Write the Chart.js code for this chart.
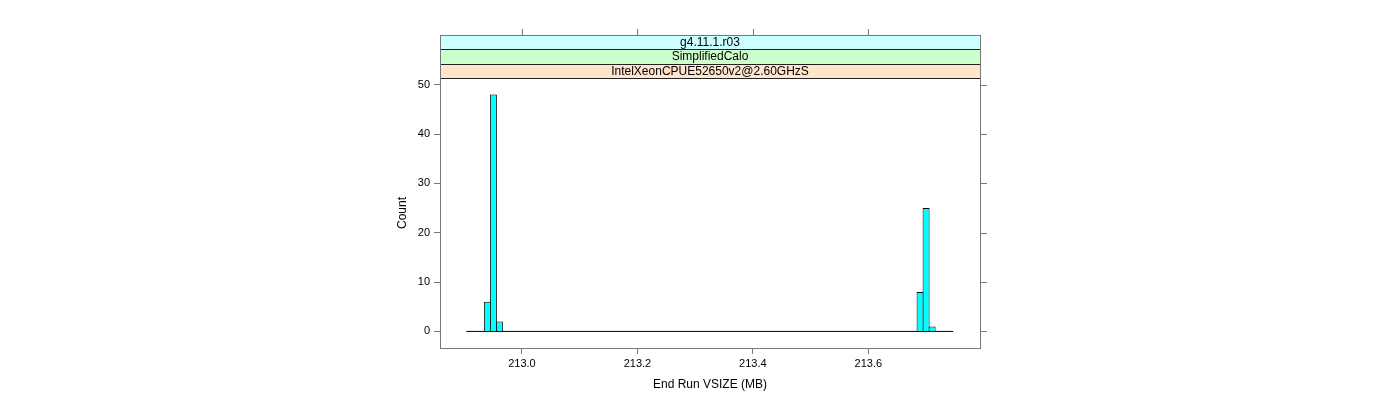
<!DOCTYPE html>
<html>
<head>
<meta charset="utf-8">
<script src="https://cdn.jsdelivr.net/npm/chart.js@4/dist/chart.umd.min.js"></script>
<style>
  html, body { margin: 0; padding: 0; background: #ffffff; }
  #wrap { width: 1400px; height: 400px; position: relative; }
</style>
</head>
<body>
<div id="wrap"><canvas id="c" width="1400" height="400"></canvas></div>
<script>
// ---- data ----
const stripLabels = ["g4.11.1.r03", "SimplifiedCalo", "IntelXeonCPUE52650v2@2.60GHzS"];
const binStart = 212.9036;      // MB, first histogram break
const binWidth = 0.010412;      // MB, histogram bin width
const counts = [
  0, 0, 0, 6, 48, 2, 0, 0, 0, 0,
  0, 0, 0, 0, 0, 0, 0, 0, 0, 0,
  0, 0, 0, 0, 0, 0, 0, 0, 0, 0,
  0, 0, 0, 0, 0, 0, 0, 0, 0, 0,
  0, 0, 0, 0, 0, 0, 0, 0, 0, 0,
  0, 0, 0, 0, 0, 0, 0, 0, 0, 0,
  0, 0, 0, 0, 0, 0, 0, 0, 0, 0,
  0, 0, 0, 0, 0, 8, 25, 1, 0, 0,
  0
];
const xTicks = [213.0, 213.2, 213.4, 213.6];
const yTicks = [0, 10, 20, 30, 40, 50];
const xRange = [212.858, 213.7935];
const yRange = [-3.36, 51.36];
const xTitle = "End Run VSIZE (MB)";
const yTitle = "Count";

// ---- chart ----
const FONT = "'Liberation Sans', Arial, Helvetica, sans-serif";
const stripColors = ["#CCFFFF", "#CCFFCC", "#FFE5CC"];
const AXIS_COL = "#777777";

const barData = counts.map((c, i) => ({ x: binStart + (i + 0.5) * binWidth, y: c }));
const baseData = [{ x: binStart, y: 0 }, { x: binStart + counts.length * binWidth, y: 0 }];

const framePlugin = {
  id: 'latticeFrame',
  afterDraw(chart) {
    const { ctx, chartArea: a, scales } = chart;
    const sx = scales.x, sy = scales.y;
    const stripH = 14.4;
    const top = a.top - stripH * stripLabels.length;
    ctx.save();
    for (let i = 0; i < stripLabels.length; i++) {
      const y0 = top + i * stripH;
      ctx.fillStyle = stripColors[i];
      ctx.fillRect(a.left, y0, a.right - a.left, stripH);
      ctx.fillStyle = "#000";
      ctx.font = "12px " + FONT;
      ctx.textAlign = "center";
      ctx.textBaseline = "middle";
      ctx.fillText(stripLabels[i], (a.left + a.right) / 2, y0 + stripH / 2 + 0.5);
    }
    ctx.strokeStyle = "#222";
    ctx.lineWidth = 1;
    for (let i = 1; i <= stripLabels.length; i++) {
      const y = Math.round(top + i * stripH) + 0.5;
      ctx.beginPath(); ctx.moveTo(a.left, y); ctx.lineTo(a.right, y); ctx.stroke();
    }
    ctx.strokeStyle = AXIS_COL;
    ctx.strokeRect(a.left + 0.5, Math.round(top) + 0.5, a.right - a.left, Math.round(a.bottom - top));
    ctx.beginPath();
    xTicks.forEach(v => {
      const px = Math.round(sx.getPixelForValue(v)) + 0.5;
      ctx.moveTo(px, Math.round(top)); ctx.lineTo(px, Math.round(top) - 6);
    });
    yTicks.forEach(v => {
      const py = Math.round(sy.getPixelForValue(v)) + 0.5;
      ctx.moveTo(a.right + 1, py); ctx.lineTo(a.right + 7, py);
    });
    ctx.stroke();
    ctx.restore();
  }
};

new Chart(document.getElementById('c'), {
  type: 'bar',
  data: {
    datasets: [
      {
        type: 'line',
        data: baseData,
        borderColor: '#000000',
        borderWidth: 1,
        pointRadius: 0,
        order: 2
      },
      {
        type: 'bar',
        data: barData,
        backgroundColor: '#00FFFF',
        borderColor: '#000000',
        borderWidth: 1,
        borderSkipped: 'start',
        barPercentage: 7 / 6,
        categoryPercentage: 1,
        order: 1
      }
    ]
  },
  options: {
    responsive: false,
    animation: false,
    events: [],
    layout: { padding: { left: 390, right: 420, top: 78, bottom: 0 } },
    plugins: { legend: { display: false }, tooltip: { enabled: false } },
    scales: {
      x: {
        type: 'linear',
        min: xRange[0],
        max: xRange[1],
        offset: false,
        afterBuildTicks: s => { s.ticks = xTicks.map(v => ({ value: v })); },
        afterFit: s => { s.height = 52; },
        border: { display: false },
        grid: { offset: false, drawOnChartArea: false, drawTicks: true, tickLength: 6, color: AXIS_COL, tickColor: AXIS_COL },
        ticks: {
          padding: 3, color: '#000', maxRotation: 0, autoSkip: false,
          font: { family: FONT, size: 11 },
          callback: v => Number(v).toFixed(1)
        },
        title: { display: true, text: xTitle, color: '#000', font: { family: FONT, size: 12 }, padding: { top: 0, bottom: 8 } }
      },
      y: {
        type: 'linear',
        min: yRange[0],
        max: yRange[1],
        afterBuildTicks: s => { s.ticks = yTicks.map(v => ({ value: v })); },
        afterFit: s => { s.width = 50; },
        border: { display: false },
        grid: { drawOnChartArea: false, drawTicks: true, tickLength: 6, color: AXIS_COL, tickColor: AXIS_COL },
        ticks: { padding: 4, color: '#000', font: { family: FONT, size: 11 } },
        title: { display: true, text: yTitle, color: '#000', font: { family: FONT, size: 12 }, padding: { top: 5, bottom: 0 } }
      }
    }
  },
  plugins: [framePlugin]
});
</script>
</body>
</html>
